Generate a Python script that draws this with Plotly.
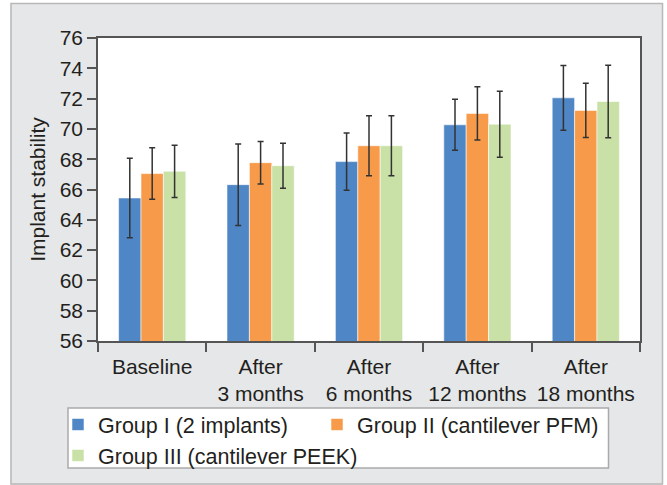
import plotly.graph_objects as go

categories = ["Baseline", "After<br>3 months", "After<br>6 months", "After<br>12 months", "After<br>18 months"]
series_names = ["Group I (2 implants)", "Group II (cantilever PFM)", "Group III (cantilever PEEK)"]
group1_mean = [65.44, 66.32, 67.84, 70.27, 72.05]
group1_sd = [2.63, 2.69, 1.89, 1.68, 2.14]
group2_mean = [67.05, 67.77, 68.89, 71.02, 71.22]
group2_sd = [1.70, 1.40, 1.98, 1.76, 1.79]
group3_mean = [67.20, 67.57, 68.89, 70.31, 71.81]
group3_sd = [1.72, 1.49, 1.98, 2.18, 2.39]
y_ticks = [56, 58, 60, 62, 64, 66, 68, 70, 72, 74, 76]

colors = ["#4f86c6", "#f79b4b", "#c9e1a6"]
legend_slots = ["legend", "legend2", "legend"]
FONT = "Liberation Sans, Arial, sans-serif"
TXT = "#231f20"
BG = "#e6e7e9"

W, H = 667, 485
L, R, T, B = 98, 640, 38, 341  # plot area in px
pw, ph = R - L, B - T


def px2paper_x(x):
    return (x - L) / pw


def px2paper_y(y):
    return (B - y) / ph


fig = go.Figure()
for name, mean, sd, c, lg in zip(series_names, [group1_mean, group2_mean, group3_mean],
                                 [group1_sd, group2_sd, group3_sd], colors, legend_slots):
    fig.add_trace(go.Bar(
        name=name, x=categories, y=mean, legend=lg,
        marker=dict(color=c, line=dict(color="rgba(255,255,255,0.55)", width=1)),
        error_y=dict(type="data", array=sd, visible=True, color="#333333", thickness=1.5, width=3),
    ))


def rect(x0, y0, x1, y1, fill, line_color=None, lw=0, layer="below"):
    return dict(type="rect", xref="paper", yref="paper", layer=layer,
                x0=px2paper_x(x0), x1=px2paper_x(x1), y0=px2paper_y(y1), y1=px2paper_y(y0),
                fillcolor=fill, line=dict(color=line_color or "rgba(0,0,0,0)", width=lw))


shapes = [
    rect(-5, -5, 10.5, 490, "white"),
    rect(-5, -5, 672, 3, "white"),
    rect(663, -5, 672, 490, "white"),
    dict(type="rect", xref="paper", yref="paper", layer="below",
         x0=px2paper_x(11), x1=px2paper_x(662.5), y0=px2paper_y(484), y1=px2paper_y(3.5),
         fillcolor="rgba(0,0,0,0)", line=dict(color="#b8b8b8", width=1.5)),
    rect(68, 408, 608.5, 468, "white", "#aaaaaa", 1.5),
]

legend_common = dict(
    orientation="v", xanchor="left", yanchor="top",
    bgcolor="rgba(0,0,0,0)", borderwidth=0,
    font=dict(family=FONT, size=21.5, color=TXT),
    itemwidth=30, traceorder="normal", tracegroupgap=0,
)

fig.update_layout(
    width=W, height=H,
    margin=dict(l=L, r=W - R, t=T, b=H - B, autoexpand=False),
    paper_bgcolor=BG,
    plot_bgcolor="white",
    barmode="group",
    bargap=0.38,
    bargroupgap=0,
    font=dict(family=FONT, size=21, color=TXT),
    xaxis=dict(
        showline=True, linecolor="#555555", linewidth=1.5, mirror=True,
        ticks="outside", tickson="boundaries", ticklen=9, tickcolor="#555555", tickwidth=1.5,
        ticklabelstandoff=6,
        tickfont=dict(family=FONT, size=21, color=TXT),
        showgrid=False, automargin=False,
    ),
    yaxis=dict(
        range=[56, 76], tickvals=y_ticks,
        showline=True, linecolor="#555555", linewidth=1.5, mirror=True,
        ticks="outside", ticklen=9, tickcolor="#555555", tickwidth=1.5,
        tickfont=dict(family=FONT, size=21, color=TXT),
        showgrid=False, zeroline=False, automargin=False,
        title=dict(text="Implant stability", font=dict(family=FONT, size=21, color=TXT), standoff=8),
    ),
    legend=dict(x=px2paper_x(58), y=px2paper_y(404), **legend_common),
    legend2=dict(x=px2paper_x(317), y=px2paper_y(404), **legend_common),
    shapes=shapes,
)

fig.write_html("out.html", config={"displayModeBar": False},
               post_script="document.body.style.margin='0px';document.body.style.padding='0px';")
